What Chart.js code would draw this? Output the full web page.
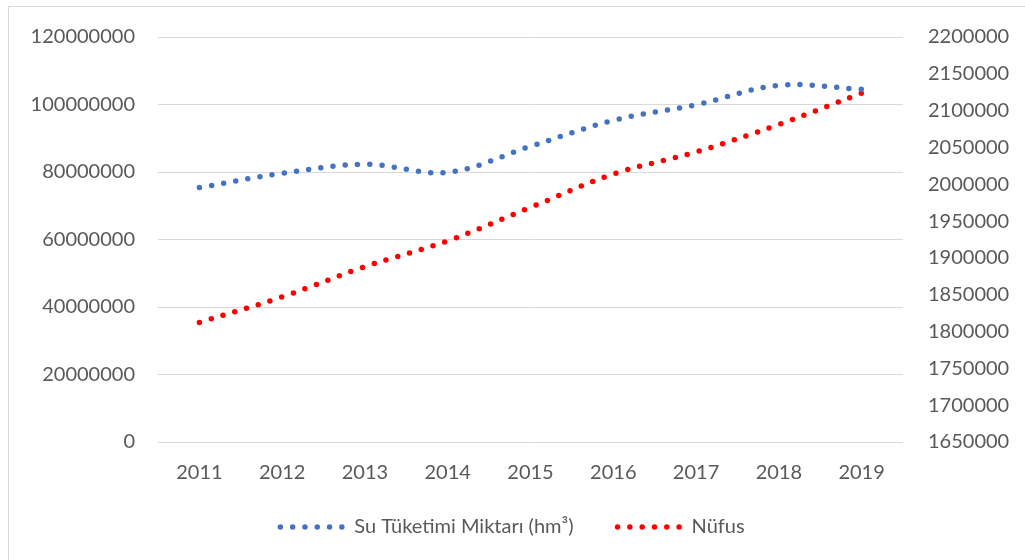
<!DOCTYPE html>
<html>
<head>
<meta charset="utf-8">
<script src="https://cdn.jsdelivr.net/npm/chart.js@4"></script>
<style>
  html, body { margin: 0; padding: 0; background: #fff; }
  #wrap { position: relative; width: 1025px; height: 560px; overflow: hidden; }
  #frame { position: absolute; left: 8px; top: 6px; width: 1030px; height: 570px; border: 1px solid #d9d9d9; }
  canvas { position: absolute; left: 0; top: 0; }
</style>
</head>
<body>
<div id="wrap">
  <div id="frame"></div>
  <canvas id="chart" width="1025" height="560"></canvas>
</div>
<script>
Chart.defaults.font.size = 20;
Chart.defaults.font.family = "Lato";
Chart.defaults.color = "#595959";

var years = ["2011", "2012", "2013", "2014", "2015", "2016", "2017", "2018", "2019"];
var water = [75400000, 79600000, 82300000, 79900000, 87600000, 95300000, 99900000, 105700000, 104500000];
var population = [1812400, 1847000, 1888200, 1923200, 1968600, 2013900, 2043900, 2081200, 2123800];

var leftWidth = 158;
var rightWidth = 1025 - 903;
var dots = [0, 12.3];

// plain numbers on the axes, no thousands separators
function plain(v) { return String(v); }

new Chart(document.getElementById("chart").getContext("2d"), {
    type: "line",
    data: {
        labels: years,
        datasets: [{
            label: "Su Tüketimi Miktarı (hm³)",
            data: water,
            yAxisID: "y",
            borderColor: "#4472c4",
            backgroundColor: "#4472c4",
            borderWidth: 5.5,
            borderDash: dots,
            borderCapStyle: "round",
            pointRadius: 0,
            tension: 0.35,
            fill: false
        }, {
            label: "Nüfus",
            data: population,
            yAxisID: "y1",
            borderColor: "#ff0000",
            backgroundColor: "#ff0000",
            borderWidth: 5.5,
            borderDash: dots,
            borderCapStyle: "round",
            pointRadius: 0,
            tension: 0.35,
            fill: false
        }]
    },
    options: {
        responsive: false,
        animation: false,
        layout: {
            padding: { top: 36, bottom: 13, left: 0, right: 0 }
        },
        plugins: {
            tooltip: { enabled: false },
            legend: {
                position: "bottom",
                labels: {
                    usePointStyle: true,
                    pointStyle: "line",
                    boxWidth: 64,
                    pointStyleWidth: 64,
                    padding: 44,
                    color: "#595959",
                    generateLabels: function (chart) {
                        var items = Chart.defaults.plugins.legend.labels.generateLabels(chart);
                        items.forEach(function (item) {
                            item.lineDash = dots;
                            item.lineCap = "round";
                            item.lineWidth = 5.5;
                        });
                        return items;
                    }
                }
            }
        },
        scales: {
            x: {
                offset: true,
                grid: { display: false },
                border: { display: false },
                ticks: { padding: 11 },
                afterFit: function (scale) {
                    scale.height = 31;
                    // let the year labels run past the shortened axis box
                    scale._computeLabelArea = function () { return undefined; };
                }
            },
            y: {
                position: "left",
                min: 0,
                max: 120000000,
                grid: { color: "#d9d9d9", drawTicks: false },
                border: { display: false },
                ticks: { stepSize: 20000000, padding: 23, callback: plain },
                afterFit: function (scale) { scale.width = leftWidth; }
            },
            y1: {
                position: "right",
                min: 1650000,
                max: 2200000,
                grid: { display: false, drawTicks: false },
                border: { display: false },
                ticks: { stepSize: 50000, padding: 25, callback: plain },
                afterFit: function (scale) { scale.width = rightWidth; }
            }
        }
    }
});
</script>
</body>
</html>
